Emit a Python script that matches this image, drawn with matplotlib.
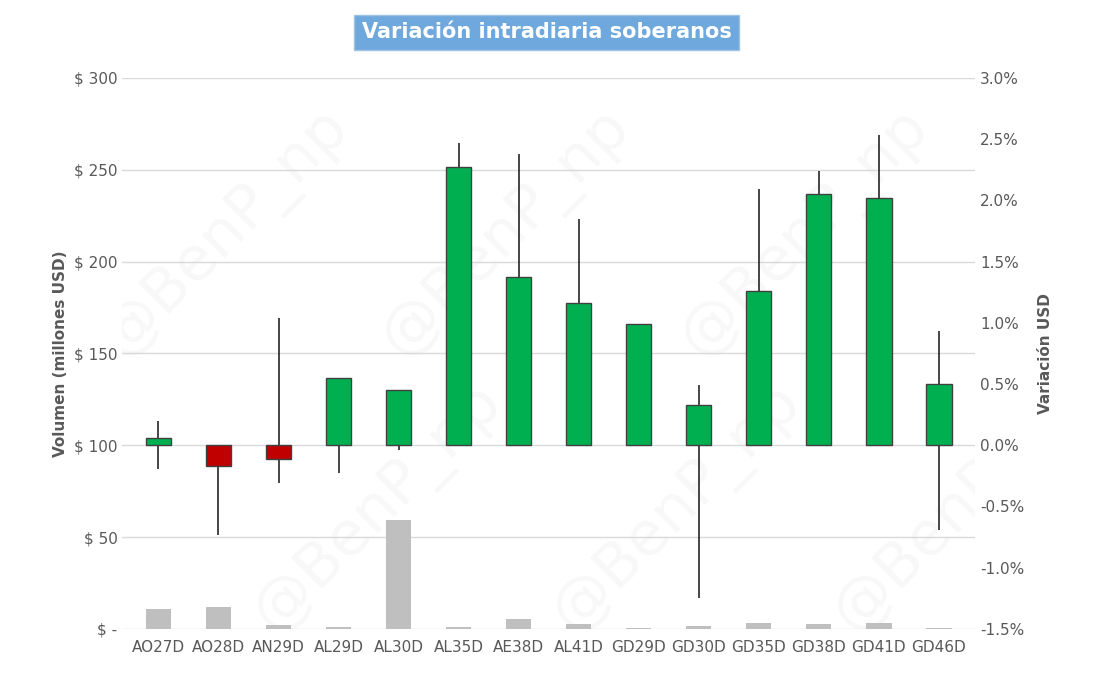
import matplotlib
matplotlib.use("Agg")
import matplotlib.pyplot as plt
import numpy as np

tickers = ["AO27D", "AO28D", "AN29D", "AL29D", "AL30D", "AL35D", "AE38D",
           "AL41D", "GD29D", "GD30D", "GD35D", "GD38D", "GD41D", "GD46D"]
volume = [10.9, 12.0, 2.0, 1.0, 59.3, 1.0, 5.4, 2.7, 0.3, 1.6, 3.3, 2.7, 3.3, 0.3]
close = [0.06, -0.17, -0.11, 0.55, 0.45, 2.27, 1.37, 1.16, 0.99, 0.33, 1.26, 2.05, 2.02, 0.50]
high = [0.20, 0.00, 1.04, 0.55, 0.45, 2.47, 2.38, 1.85, 0.99, 0.49, 2.09, 2.24, 2.53, 0.93]
low = [-0.19, -0.73, -0.31, -0.23, -0.04, 0.00, 0.00, 0.00, 0.00, -1.25, 0.00, 0.00, 0.00, -0.69]

fig = plt.figure(figsize=(10.93, 6.77), dpi=100)
ax = fig.add_axes([0.112, 0.071, 0.78, 0.814])
ax2 = ax.twinx()
x = np.arange(len(tickers))

ax.bar(x, volume, width=0.42, color="#bfbfbf", zorder=2)
ax.set_ylim(0, 300)
ax.set_yticks(range(0, 301, 50))
ax.set_yticklabels(["$ -"] + [f"$ {v}" for v in range(50, 301, 50)])
ax.set_xlim(-0.6, len(tickers) - 0.4)
ax.set_xticks(x)
ax.set_xticklabels(tickers)
ax.grid(axis="y", color="#d9d9d9", linewidth=1, zorder=0)
ax.set_ylabel("Volumen (millones USD)", fontsize=11, fontweight="bold", color="#595959")

ax2.set_ylim(-1.5, 3.0)
ax2.set_yticks(np.arange(-1.5, 3.01, 0.5))
ax2.set_yticklabels([f"{v:.1f}%" for v in np.arange(-1.5, 3.01, 0.5)])
ax2.vlines(x, low, high, color="#262626", linewidth=1.2, zorder=2)
colors = ["#00b050" if c >= 0 else "#c00000" for c in close]
ax2.bar(x, close, width=0.42, color=colors, edgecolor="#404040", linewidth=1, zorder=3)
ax2.set_ylabel("Variación USD", fontsize=11, fontweight="bold", color="#595959", labelpad=10)

for a in (ax, ax2):
    for s in a.spines.values():
        s.set_visible(False)
    a.tick_params(length=0, labelsize=11, colors="#595959")
ax.tick_params(axis="x", pad=8)

# faint watermark
for xp, yp in [(0.12, 0.72), (0.45, 0.72), (0.8, 0.72), (0.3, 0.22), (0.65, 0.22), (0.98, 0.22)]:
    ax.text(xp, yp, "@BenP_np", transform=ax.transAxes, fontsize=44, color="#000000",
            alpha=0.03, rotation=45, ha="center", va="center", clip_on=True, zorder=1)

fig.text(0.5, 0.952, "Variación intradiaria soberanos", ha="center", va="center",
         fontsize=15, fontweight="bold", color="white",
         bbox=dict(boxstyle="square,pad=0.35", facecolor="#6fa8dc", edgecolor="#9dc3e6"))

fig.savefig("out.png")
